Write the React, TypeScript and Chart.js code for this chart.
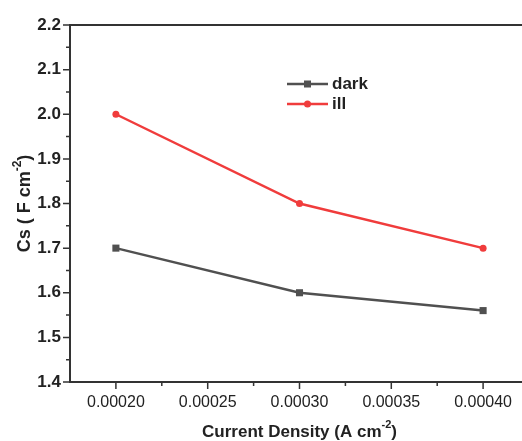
import React, { useEffect, useRef } from "react";
import { Chart, registerables } from "chart.js";

Chart.register(...registerables);

const currentDensity = [0.0002, 0.0003, 0.0004];
const darkValues = [1.7, 1.6, 1.56];
const illValues = [2.0, 1.8, 1.7];
const seriesNames = ["dark", "ill"];
const xMajorTicks = [0.0002, 0.00025, 0.0003, 0.00035, 0.0004];
const xMinorTicks = [0.000225, 0.000275, 0.000325, 0.000375];
const yMajorTicks = [1.4, 1.5, 1.6, 1.7, 1.8, 1.9, 2.0, 2.1, 2.2];
const yMinorTicks = [1.45, 1.55, 1.65, 1.75, 1.85, 1.95, 2.05, 2.15];
const xTitle = ["Current Density (A cm", "-2", ")"];
const yTitle = ["Cs ( F cm", "-2", ")"];

const FONT = "'Liberation Sans', Arial, sans-serif";
const AXIS = "#333333";
const DARK = "#505050";
const RED = "#f03c3c";

function drawSupText(ctx: CanvasRenderingContext2D, parts: string[], cx: number, cy: number, size: number) {
  const main = `bold ${size}px ${FONT}`;
  const sup = `bold ${Math.round(size * 0.65)}px ${FONT}`;
  ctx.font = main;
  const w0 = ctx.measureText(parts[0]).width;
  const w2 = ctx.measureText(parts[2]).width;
  ctx.font = sup;
  const w1 = ctx.measureText(parts[1]).width;
  const total = w0 + w1 + w2;
  let x = cx - total / 2;
  ctx.textBaseline = "middle";
  ctx.textAlign = "left";
  ctx.font = main;
  ctx.fillText(parts[0], x, cy);
  x += w0;
  ctx.font = sup;
  ctx.fillText(parts[1], x, cy - size * 0.42);
  x += w1;
  ctx.font = main;
  ctx.fillText(parts[2], x, cy);
}

const decorPlugin = {
  id: "decor",
  afterDraw(chart: any) {
    const ctx = chart.ctx as CanvasRenderingContext2D;
    const area = chart.chartArea;
    const xs = chart.scales.x;
    const ys = chart.scales.y;
    ctx.save();
    ctx.strokeStyle = AXIS;
    ctx.lineWidth = 2;
    ctx.beginPath();
    ctx.moveTo(area.left, area.top);
    ctx.lineTo(area.right, area.top);
    ctx.lineTo(area.right, area.bottom);
    ctx.stroke();
    ctx.lineWidth = 1.5;
    ctx.beginPath();
    xMajorTicks.forEach((v) => {
      const px = xs.getPixelForValue(v);
      ctx.moveTo(px, area.bottom);
      ctx.lineTo(px, area.bottom + 7);
    });
    xMinorTicks.forEach((v) => {
      const px = xs.getPixelForValue(v);
      ctx.moveTo(px, area.bottom);
      ctx.lineTo(px, area.bottom + 4);
    });
    yMajorTicks.forEach((v) => {
      const py = ys.getPixelForValue(v);
      ctx.moveTo(area.left, py);
      ctx.lineTo(area.left - 7, py);
    });
    yMinorTicks.forEach((v) => {
      const py = ys.getPixelForValue(v);
      ctx.moveTo(area.left, py);
      ctx.lineTo(area.left - 4, py);
    });
    ctx.stroke();

    ctx.fillStyle = "#222222";
    drawSupText(ctx, xTitle, (area.left + area.right) / 2, 432, 17);
    ctx.save();
    ctx.translate(25, (area.top + area.bottom) / 2);
    ctx.rotate(-Math.PI / 2);
    drawSupText(ctx, yTitle, 0, 0, 18);
    ctx.restore();

    const ds = chart.data.datasets;
    const lx0 = 287;
    const lx1 = 328;
    const rows = [84, 104];
    ds.forEach((d: any, i: number) => {
      const y = rows[i];
      ctx.strokeStyle = d.borderColor;
      ctx.lineWidth = 2.5;
      ctx.beginPath();
      ctx.moveTo(lx0, y);
      ctx.lineTo(lx1, y);
      ctx.stroke();
      ctx.fillStyle = d.borderColor;
      const mx = (lx0 + lx1) / 2;
      if (d.pointStyle === "rect") {
        ctx.fillRect(mx - 3.5, y - 3.5, 7, 7);
      } else {
        ctx.beginPath();
        ctx.arc(mx, y, 3.5, 0, Math.PI * 2);
        ctx.fill();
      }
      ctx.fillStyle = "#222222";
      ctx.font = `bold 17px ${FONT}`;
      ctx.textAlign = "left";
      ctx.textBaseline = "middle";
      ctx.fillText(d.label, 332, y);
    });
    ctx.restore();
  },
};

export default function App() {
  const ref = useRef<HTMLCanvasElement | null>(null);
  useEffect(() => {
    if (!ref.current) return;
    const chart = new Chart(ref.current, {
      type: "line",
      data: {
        datasets: [
          {
            label: seriesNames[0],
            data: currentDensity.map((x, i) => ({ x, y: darkValues[i] })),
            borderColor: DARK,
            backgroundColor: DARK,
            borderWidth: 2.5,
            pointStyle: "rect",
            pointRadius: 5,
            pointBorderWidth: 0,
          },
          {
            label: seriesNames[1],
            data: currentDensity.map((x, i) => ({ x, y: illValues[i] })),
            borderColor: RED,
            backgroundColor: RED,
            borderWidth: 2.5,
            pointStyle: "circle",
            pointRadius: 3.5,
            pointBorderWidth: 0,
          },
        ],
      },
      options: {
        animation: false,
        responsive: false,
        devicePixelRatio: 1,
        layout: { padding: { top: 25, right: 11, left: 0, bottom: 0 } },
        plugins: { legend: { display: false }, tooltip: { enabled: false } },
        scales: {
          x: {
            type: "linear",
            min: 0.000175,
            max: 0.000425,
            afterBuildTicks: (s: any) => {
              s.ticks = xMajorTicks.map((v) => ({ value: v }));
            },
            afterFit: (s: any) => {
              s.height = 59;
            },
            ticks: {
              padding: 11,
              color: "#222222",
              font: { family: FONT, size: 16 },
              maxRotation: 0,
              autoSkip: false,
              callback: (v: any) => Number(v).toFixed(5),
            },
            grid: { display: false, drawTicks: false },
            border: { display: true, color: AXIS, width: 2 },
          },
          y: {
            type: "linear",
            min: 1.4,
            max: 2.2,
            afterBuildTicks: (s: any) => {
              s.ticks = yMajorTicks.map((v) => ({ value: v }));
            },
            afterFit: (s: any) => {
              s.width = 70;
            },
            ticks: {
              padding: 9,
              color: "#222222",
              font: { family: FONT, size: 17, weight: "bold" },
              autoSkip: false,
              callback: (v: any) => Number(v).toFixed(1),
            },
            grid: { display: false, drawTicks: false },
            border: { display: true, color: AXIS, width: 2 },
          },
        },
      },
      plugins: [decorPlugin],
    } as any);
    return () => chart.destroy();
  }, []);
  return (
    <div style={{ position: "fixed", left: 0, top: 0, width: 540, height: 441, background: "#fff" }}>
      <canvas ref={ref} width={540} height={441} />
    </div>
  );
}
